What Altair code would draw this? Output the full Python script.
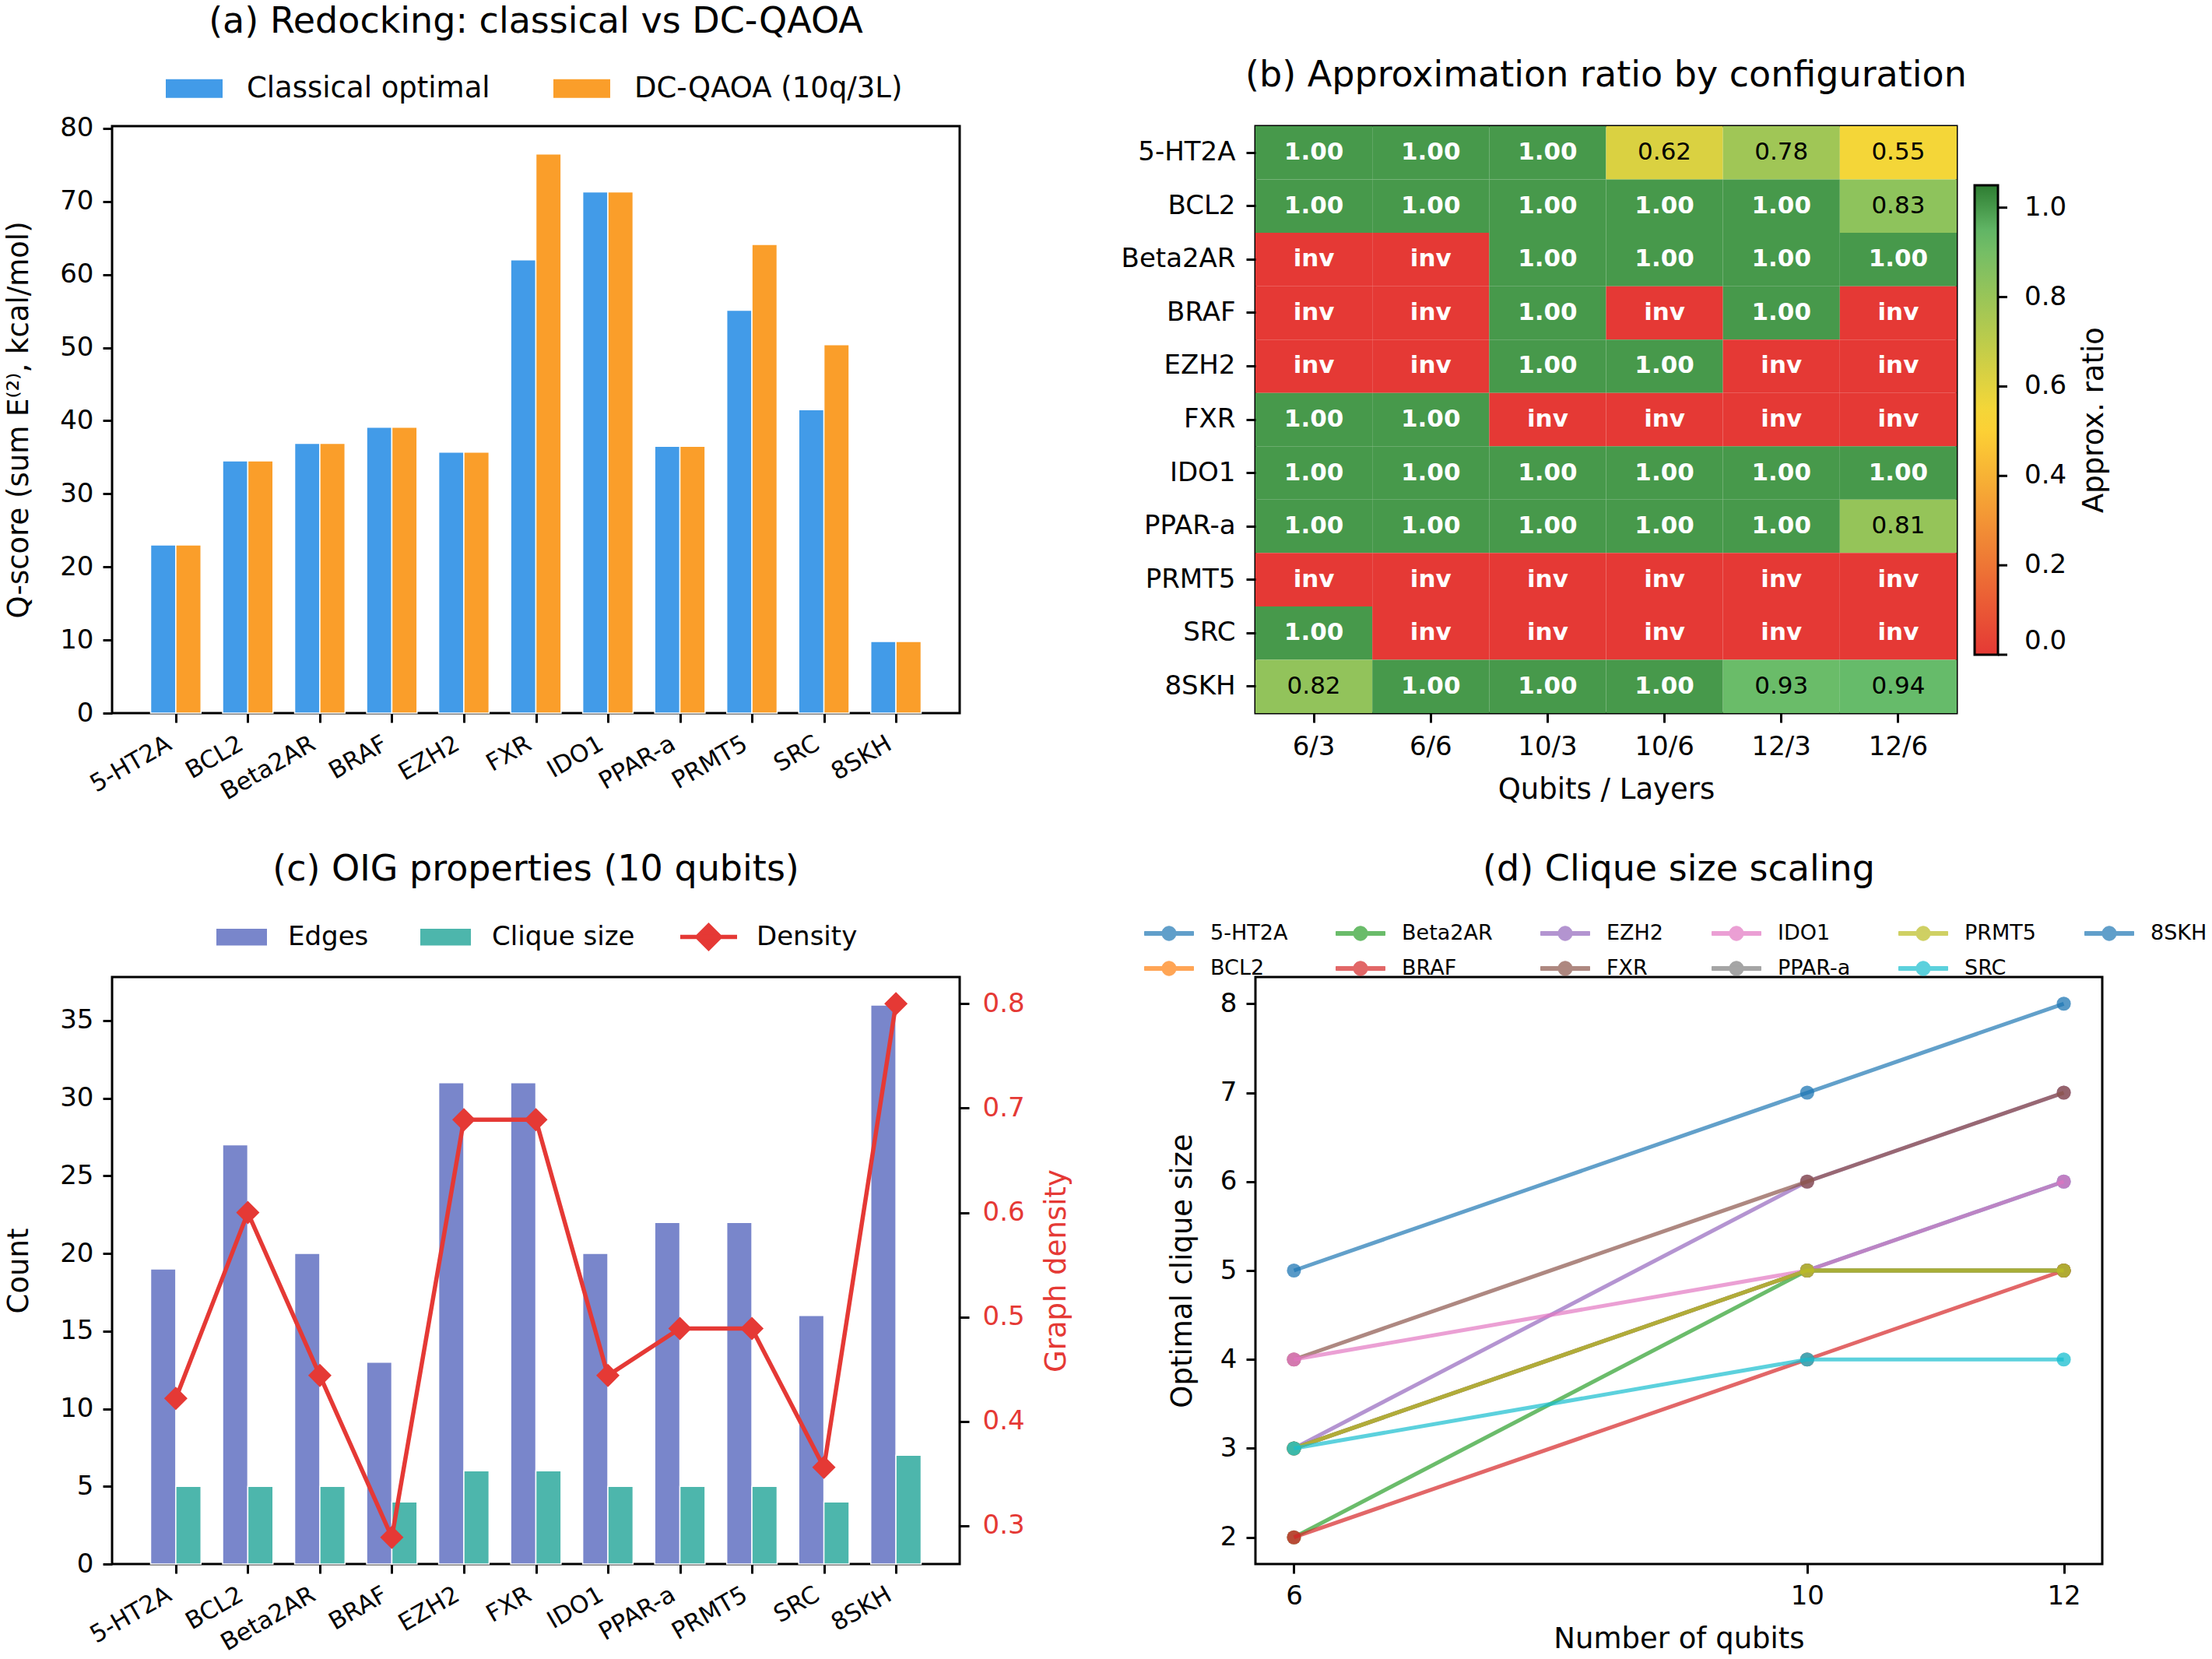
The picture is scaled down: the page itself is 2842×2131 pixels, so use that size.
import json
import altair as alt
import pandas as pd

FONT = "DejaVu Sans"
RED = "#e53935"

proteins = ["5-HT2A", "BCL2", "Beta2AR", "BRAF", "EZH2", "FXR", "IDO1", "PPAR-a", "PRMT5", "SRC", "8SKH"]

# (a) redocking Q-scores
methods = ["Classical optimal", "DC-QAOA (10q/3L)"]
qscore_classical = [23.0, 34.5, 36.9, 39.1, 35.7, 62.0, 71.3, 36.5, 55.1, 41.5, 9.8]
qscore_dcqaoa = [23.0, 34.5, 36.9, 39.1, 35.7, 76.5, 71.3, 36.5, 64.1, 50.4, 9.8]
method_colors = ["#429be8", "#fa9e2a"]

# (b) approximation ratio (None = invalid)
configs = ["6/3", "6/6", "10/3", "10/6", "12/3", "12/6"]
ratio_5HT2A = [1.00, 1.00, 1.00, 0.62, 0.78, 0.55]
ratio_BCL2 = [1.00, 1.00, 1.00, 1.00, 1.00, 0.83]
ratio_Beta2AR = [None, None, 1.00, 1.00, 1.00, 1.00]
ratio_BRAF = [None, None, 1.00, None, 1.00, None]
ratio_EZH2 = [None, None, 1.00, 1.00, None, None]
ratio_FXR = [1.00, 1.00, None, None, None, None]
ratio_IDO1 = [1.00, 1.00, 1.00, 1.00, 1.00, 1.00]
ratio_PPARa = [1.00, 1.00, 1.00, 1.00, 1.00, 0.81]
ratio_PRMT5 = [None, None, None, None, None, None]
ratio_SRC = [1.00, None, None, None, None, None]
ratio_8SKH = [0.82, 1.00, 1.00, 1.00, 0.93, 0.94]
ratio_rows = [ratio_5HT2A, ratio_BCL2, ratio_Beta2AR, ratio_BRAF, ratio_EZH2, ratio_FXR,
              ratio_IDO1, ratio_PPARa, ratio_PRMT5, ratio_SRC, ratio_8SKH]
cmap_stops = [0.0, 0.525, 0.94, 1.05]
cmap_colors = ["#e53935", "#fdd835", "#66bb6a", "#2e7d32"]
cbar_ticks = [0.0, 0.2, 0.4, 0.6, 0.8, 1.0]

# (c) OIG properties (10 qubits)
bar_series = ["Edges", "Clique size"]
edges = [19, 27, 20, 13, 31, 31, 20, 22, 22, 16, 36]
clique10 = [5, 5, 5, 4, 6, 6, 5, 5, 5, 4, 7]
density = [0.422, 0.600, 0.444, 0.289, 0.689, 0.689, 0.444, 0.489, 0.489, 0.356, 0.800]
bar_colors = ["#7986cb", "#4db6ac"]

# (d) clique size scaling
qubits = [6, 10, 12]
clique_5HT2A = [3, 5, 6]
clique_BCL2 = [3, 5, 5]
clique_Beta2AR = [2, 5, 5]
clique_BRAF = [2, 4, 5]
clique_EZH2 = [3, 6, 7]
clique_FXR = [4, 6, 7]
clique_IDO1 = [4, 5, 6]
clique_PPARa = [3, 5, 5]
clique_PRMT5 = [3, 5, 5]
clique_SRC = [3, 4, 4]
clique_8SKH = [5, 7, 8]
clique_rows = [clique_5HT2A, clique_BCL2, clique_Beta2AR, clique_BRAF, clique_EZH2, clique_FXR,
               clique_IDO1, clique_PPARa, clique_PRMT5, clique_SRC, clique_8SKH]
tab_colors = ["#1f77b4", "#ff7f0e", "#2ca02c", "#d62728", "#9467bd", "#8c564b",
              "#e377c2", "#7f7f7f", "#bcbd22", "#17becf", "#1f77b4"]

W_AC, W_B, W_D, H = 1089, 901, 1088, 754
BAR_W = 0.35
CBAR_X, CBAR_Y, CBAR_LEN, CBAR_W = 924, 76, 603, 30

def title(text, offset):
    return alt.TitleParams(text=text, fontSize=46, fontWeight="normal", offset=offset,
                           frame="group", anchor="middle")

idx = list(range(len(proteins)))
label_expr = json.dumps(proteins) + "[datum.value]"
x_cat_scale = alt.Scale(domain=[-0.885, len(proteins) - 1 + 0.885], nice=False, zero=False)
x_cat_axis = alt.Axis(values=idx, labelExpr=label_expr, title=None, labelAngle=330,
                      labelAlign="right", labelBaseline="top", labelFontSize=31,
                      labelOffset=-16, labelPadding=12, labelOverlap=False)

# ---------------- (a)
df_a = pd.DataFrame({
    "protein": proteins * 2,
    "idx": idx * 2,
    "method": [methods[0]] * len(proteins) + [methods[1]] * len(proteins),
    "qscore": qscore_classical + qscore_dcqaoa,
})
chart_a = alt.Chart(df_a).transform_calculate(
    x0=f"datum.idx + (datum.method === '{methods[0]}' ? -{BAR_W} : 0)",
    x1=f"datum.idx + (datum.method === '{methods[0]}' ? 0 : {BAR_W})",
).mark_rect(stroke="white", strokeWidth=1.5).encode(
    x=alt.X("x0:Q", scale=x_cat_scale, axis=x_cat_axis),
    x2="x1:Q",
    y=alt.Y("qscore:Q", scale=alt.Scale(domain=[0, 80.3], nice=False),
            axis=alt.Axis(values=list(range(0, 81, 10)), title="Q-score (sum E⁽²⁾, kcal/mol)",
                          titlePadding=33)),
    y2=alt.Y2Datum(0),
    color=alt.Color("method:N", scale=alt.Scale(domain=methods, range=method_colors),
                    legend=alt.Legend(title=None, orient="none", legendX=69, legendY=-85,
                                      direction="horizontal", symbolType="M-1,-0.33H1V0.33H-1Z",
                                      symbolSize=5329, symbolStrokeWidth=0, symbolOpacity=1,
                                      labelOffset=31, columnPadding=81, labelFontSize=37,
                                      labelLimit=0, padding=0)),
).properties(width=W_AC, height=H, title=title("(a) Redocking: classical vs DC-QAOA", 25))

# ---------------- (b)
rows_b = []
for p, vals in zip(proteins, ratio_rows):
    for c, v in zip(configs, vals):
        rows_b.append({"protein": p, "config": c, "ratio": v})
df_b = pd.DataFrame(rows_b)

base_b = alt.Chart(df_b).transform_calculate(
    cv="isValid(datum.ratio) ? datum.ratio : 0",
    lab="isValid(datum.ratio) ? format(datum.ratio, '.2f') : 'inv'",
    hi="!isValid(datum.ratio) || datum.ratio >= 0.95",
)
x_b = alt.X("config:N", sort=configs, scale=alt.Scale(domain=configs, paddingInner=0, paddingOuter=0),
            axis=alt.Axis(title="Qubits / Layers", labelAngle=0, titlePadding=20, labelPadding=14))
y_b = alt.Y("protein:N", sort=proteins, scale=alt.Scale(domain=proteins, paddingInner=0, paddingOuter=0),
            axis=alt.Axis(title=None, labelPadding=14))
rect_b = base_b.mark_rect().encode(
    x=x_b, y=y_b,
    color=alt.Color("cv:Q",
                    scale=alt.Scale(domain=cmap_stops, range=cmap_colors, interpolate="rgb", nice=False),
                    legend=alt.Legend(title=None, orient="none", legendX=CBAR_X, legendY=CBAR_Y,
                                      direction="vertical", gradientLength=CBAR_LEN,
                                      gradientThickness=CBAR_W, values=cbar_ticks, format=".1f",
                                      labelOffset=34, labelFontSize=34, labelBaseline="middle",
                                      gradientStrokeColor="black", gradientStrokeWidth=3, padding=0)),
)
txt_w = base_b.transform_filter("datum.hi").mark_text(fontSize=31, fontWeight="bold", color="white").encode(
    x=x_b, y=y_b, text="lab:N")
txt_k = base_b.transform_filter("!datum.hi").mark_text(fontSize=31, color="black").encode(
    x=x_b, y=y_b, text="lab:N")
cbar_title = alt.Chart(pd.DataFrame({"t": ["Approx. ratio"]})).mark_text(
    fontSize=37, angle=270, align="center", baseline="middle", color="black"
).encode(x=alt.value(1078), y=alt.value(CBAR_Y + CBAR_LEN / 2), text="t:N")
cbar_tick_marks = alt.Chart(pd.DataFrame({"v": cbar_ticks})).mark_rule(
    color="black", strokeWidth=3
).encode(
    y=alt.Y("v:Q", scale=alt.Scale(domain=[cmap_stops[0], cmap_stops[-1]],
                                   range=[CBAR_Y + CBAR_LEN, CBAR_Y], nice=False, zero=False),
            axis=None),
    x=alt.value(CBAR_X + CBAR_W), x2=alt.value(CBAR_X + CBAR_W + 12),
)
chart_b = alt.layer(
    alt.layer(rect_b, txt_w, txt_k, cbar_title), cbar_tick_marks
).resolve_scale(y="independent").properties(
    width=W_B, height=H, title=title("(b) Approximation ratio by configuration", 41))

# ---------------- (c)
df_c_bar = pd.DataFrame({
    "protein": proteins * 2,
    "idx": idx * 2,
    "series": [bar_series[0]] * len(proteins) + [bar_series[1]] * len(proteins),
    "count": edges + clique10,
})
df_c_den = pd.DataFrame({
    "protein": proteins,
    "idx": idx,
    "density": density,
    "series": ["Density"] * len(proteins),
})
bars_c = alt.Chart(df_c_bar).transform_calculate(
    x0=f"datum.idx + (datum.series === '{bar_series[0]}' ? -{BAR_W} : 0)",
    x1=f"datum.idx + (datum.series === '{bar_series[0]}' ? 0 : {BAR_W})",
).mark_rect(stroke="white", strokeWidth=1.5).encode(
    x=alt.X("x0:Q", scale=x_cat_scale, axis=x_cat_axis),
    x2="x1:Q",
    y=alt.Y("count:Q", scale=alt.Scale(domain=[0, 37.8], nice=False),
            axis=alt.Axis(values=list(range(0, 36, 5)), title="Count", titlePadding=33)),
    y2=alt.Y2Datum(0),
    fill=alt.Fill("series:N", scale=alt.Scale(domain=bar_series, range=bar_colors),
                  legend=alt.Legend(title=None, orient="none", legendX=134, legendY=-84,
                                    direction="horizontal", symbolType="M-1,-0.33H1V0.33H-1Z",
                                    symbolSize=4225, symbolStrokeWidth=0, labelOffset=27,
                                    columnPadding=66, labelFontSize=34, labelLimit=0, padding=0)),
)
den_scale = alt.Scale(domain=[0.2634, 0.8256], nice=False, zero=False)
den_axis = alt.Axis(orient="right", values=[0.3, 0.4, 0.5, 0.6, 0.7, 0.8], format=".1f",
                    title="Graph density", labelColor=RED, titleColor=RED, titleAngle=270,
                    titlePadding=60, labelPadding=17)
line_c = alt.Chart(df_c_den).mark_line(strokeWidth=5.5).encode(
    x=alt.X("idx:Q", scale=x_cat_scale, axis=x_cat_axis),
    y=alt.Y("density:Q", scale=den_scale, axis=den_axis),
    stroke=alt.Stroke("series:N", scale=alt.Scale(domain=["Density"], range=[RED]),
                      legend=alt.Legend(title=None, orient="none", legendX=727, legendY=-91,
                                        symbolType="M-1,0H1M0,-0.4L0.4,0L0,0.4L-0.4,0Z",
                                        symbolSize=5329, symbolStrokeWidth=5.5, symbolFillColor=RED,
                                        labelOffset=22, labelFontSize=34, labelLimit=0, padding=0)),
)
pts_c = alt.Chart(df_c_den).mark_point(shape="diamond", filled=True, size=900, color=RED, opacity=1).encode(
    x=alt.X("idx:Q", scale=x_cat_scale, axis=x_cat_axis),
    y=alt.Y("density:Q", scale=den_scale, axis=den_axis),
)
chart_c = alt.layer(bars_c, alt.layer(line_c, pts_c)).resolve_scale(y="independent").properties(
    width=W_AC, height=H, title=title("(c) OIG properties (10 qubits)", 23))

# ---------------- (d)
rows_d = []
for p, vals in zip(proteins, clique_rows):
    for q, v in zip(qubits, vals):
        rows_d.append({"name": p, "qubits": q, "clique": v})
df_d = pd.DataFrame(rows_d)

legend_order = [proteins[i] for i in [0, 2, 4, 6, 8, 10, 1, 3, 5, 7, 9]]
legend_colors = [tab_colors[proteins.index(n)] for n in legend_order]
color_d = alt.Scale(domain=legend_order, range=legend_colors)
x_d = alt.X("qubits:Q", scale=alt.Scale(domain=[5.7, 12.3], nice=False, zero=False),
            axis=alt.Axis(values=qubits, title="Number of qubits", titlePadding=20))
y_d = alt.Y("clique:Q", scale=alt.Scale(domain=[1.7, 8.3], nice=False, zero=False),
            axis=alt.Axis(values=list(range(2, 9)), title="Optimal clique size", titlePadding=29))
legend_d = alt.Legend(title=None, orient="none", legendX=-143, legendY=-88, columns=6,
                      direction="horizontal",
                      symbolType="M-1,-0.08H1V0.08H-1Z M-0.29,0A0.29,0.29 0 1,1 0.29,0A0.29,0.29 0 1,1 -0.29,0Z",
                      symbolSize=3969, symbolStrokeWidth=1, symbolOpacity=0.7, labelOffset=21,
                      columnPadding=59, rowPadding=-21, labelFontSize=27, labelLimit=0, padding=0)
layers_d = []
for p in proteins:
    sub = alt.Chart(df_d).transform_filter(alt.datum.name == p)
    layers_d.append(sub.mark_line(strokeWidth=5, opacity=0.7).encode(
        x=x_d, y=y_d, color=alt.Color("name:N", scale=color_d, legend=legend_d)))
    layers_d.append(sub.mark_point(filled=True, size=330, opacity=0.75).encode(
        x=x_d, y=y_d, color=alt.Color("name:N", scale=color_d, legend=legend_d)))
chart_d = alt.layer(*layers_d).properties(width=W_D, height=H, title=title("(d) Clique size scaling", 26))

# ---------------- layout
chart = alt.concat(
    chart_a, chart_b, chart_c, chart_d, columns=2,
    spacing={"row": 339, "column": 380}, bounds="flush",
).resolve_scale(color="independent", fill="independent", stroke="independent").properties(
    padding={"left": 4, "top": 3, "right": 0, "bottom": 0}
).configure(font=FONT).configure_view(
    stroke="black", strokeWidth=3
).configure_axis(
    grid=False, domain=False, tickColor="black", tickWidth=3, tickSize=12,
    labelFontSize=34, titleFontSize=37, labelColor="black", titleColor="black",
    titleFontWeight="normal", labelPadding=12, labelFont=FONT, titleFont=FONT
).configure_legend(labelFont=FONT, titleFont=FONT, labelColor="black").configure_title(
    font=FONT, color="black"
)

chart.save("out.html", embed_options={"renderer": "svg", "actions": False})
